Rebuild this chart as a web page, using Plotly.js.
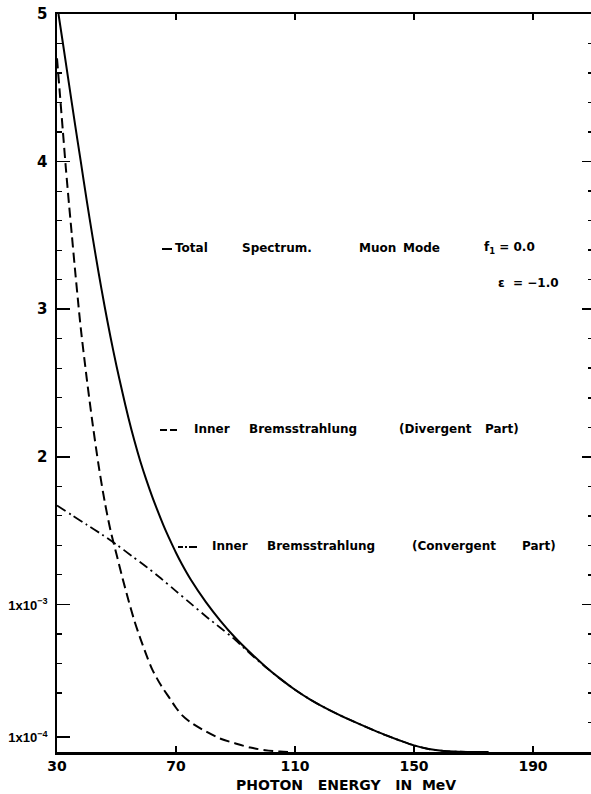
<!DOCTYPE html>
<html>
<head>
<meta charset="utf-8">
<script src="https://cdn.plot.ly/plotly-3.0.1.min.js"></script>
<style>html,body{margin:0;padding:0;background:#fff;}#chart{width:591px;height:794px;}</style>
</head>
<body>
<div id="chart"></div>
<script>
// ---- Data (values in units of 10^-3) ----
const totalEnergy = [30.5, 32, 34, 36, 38, 40, 42, 44, 46, 48, 50, 52, 54, 56, 58, 60, 62, 64, 66, 68, 70, 72, 75, 80, 85, 90, 95, 100, 105, 110, 115, 120, 125, 130, 135, 140, 145, 150, 155, 160, 165, 170, 175];
const totalSpectrum = [5.0, 4.8, 4.53, 4.26, 4.0, 3.735, 3.485, 3.245, 3.02, 2.81, 2.615, 2.435, 2.265, 2.11, 1.97, 1.845, 1.73, 1.625, 1.525, 1.435, 1.35, 1.272, 1.167, 1.017, 0.887, 0.772, 0.672, 0.58, 0.497, 0.422, 0.357, 0.3, 0.25, 0.204, 0.16, 0.118, 0.08, 0.045, 0.02, 0.007, 0.002, 0.0005, 0];

const divEnergy = [30, 31, 32, 33, 34, 35, 36, 37, 38, 40, 42, 44, 46, 48, 50, 52, 54, 56, 58, 60, 62, 65, 68, 70, 72, 75, 80, 85, 90, 95, 100, 105, 108];
const divergentPart = [4.7, 4.45, 4.2, 3.95, 3.72, 3.5, 3.28, 3.07, 2.87, 2.53, 2.22, 1.94, 1.7, 1.5, 1.34, 1.18, 1.03, 0.89, 0.77, 0.66, 0.56, 0.45, 0.36, 0.3, 0.25, 0.2, 0.14, 0.09, 0.058, 0.03, 0.012, 0.003, 0];

const convEnergy = [30, 35, 40, 45, 50, 55, 60, 65, 70, 75, 80, 85, 90, 95, 100, 105, 110, 115, 120, 125, 130, 135, 140, 145, 150, 155, 160, 165, 170, 175];
const convergentPart = [1.67, 1.605, 1.54, 1.475, 1.405, 1.33, 1.255, 1.175, 1.09, 1.005, 0.92, 0.84, 0.758, 0.665, 0.578, 0.496, 0.422, 0.357, 0.3, 0.25, 0.204, 0.16, 0.118, 0.08, 0.045, 0.02, 0.007, 0.002, 0.0005, 0];

const xTickVals = [30, 70, 110, 150, 190];
const xTickText = ['30', '70', '110', '150', '190'];
const yTickVals = [0.1, 1, 2, 3, 4, 5];
const yTickText = [
  '<span style="font-family:Liberation Sans, Arial, sans-serif;font-size:13px">1x10<sup>−4</sup></span>',
  '<span style="font-family:Liberation Sans, Arial, sans-serif;font-size:13px">1x10<sup>−3</sup></span>',
  '2', '3', '4', '5'];
const yMinorVals = [0.4, 0.6, 0.8, 1.2, 1.4, 1.6, 1.8, 2.2, 2.4, 2.6, 2.8, 3.2, 3.4, 3.6, 3.8, 4.2, 4.4, 4.6, 4.8];
const xTitle = 'PHOTON\u00a0\u00a0\u00a0ENERGY\u00a0\u00a0\u00a0IN\u00a0\u00a0MeV';

// ---- Layout helpers (pixel -> paper) ----
const L = 57, T = 14, W = 534, H = 738;
const px = x => (x - L) / W;
const py = y => (T + H - y) / H;

const FONT = {family: 'DejaVu Sans, Liberation Sans, sans-serif', color: '#000', weight: 'bold'};
const lab = (text, x, y, size) => ({
  text: text, x: px(x), y: py(y), xref: 'paper', yref: 'paper',
  xanchor: 'left', yanchor: 'middle', showarrow: false,
  font: Object.assign({}, FONT, {size: size || 12})
});

const traces = [
  {x: totalEnergy, y: totalSpectrum, mode: 'lines', name: 'Total Spectrum',
   line: {color: '#000', width: 2, shape: 'spline', smoothing: 0.8}},
  {x: divEnergy, y: divergentPart, mode: 'lines', name: 'Inner Bremsstrahlung (Divergent Part)',
   line: {color: '#000', width: 2, dash: '10px,5px', shape: 'spline', smoothing: 0.8}},
  {x: convEnergy, y: convergentPart, mode: 'lines', name: 'Inner Bremsstrahlung (Convergent Part)',
   line: {color: '#000', width: 1.8, dash: '10px,4px,2px,4px', shape: 'spline', smoothing: 0.8}},
  {x: [30], y: [0], yaxis: 'y2', mode: 'markers', marker: {opacity: 0}, hoverinfo: 'skip', showlegend: false}
];

const layout = {
  width: 591, height: 794,
  margin: {l: L, r: 0, t: T, b: 794 - T - H},
  paper_bgcolor: '#fff', plot_bgcolor: '#fff',
  showlegend: false,
  xaxis: {
    range: [30, 30 + W / 2.975],
    tickmode: 'array', tickvals: xTickVals, ticktext: xTickText,
    ticks: 'inside', ticklen: 6, tickwidth: 1.5, tickcolor: '#000',
    showline: true, linewidth: 2.5, linecolor: '#000', mirror: 'ticks',
    showgrid: false, zeroline: false, ticklabelstandoff: 0,
    tickfont: Object.assign({}, FONT, {size: 14})
  },
  yaxis: {
    range: [0, 5],
    tickmode: 'array', tickvals: yTickVals, ticktext: yTickText,
    ticks: 'inside', ticklen: 13, tickwidth: 1.5, tickcolor: '#000',
    minor: {tickmode: 'array', tickvals: yMinorVals, ticks: 'inside', ticklen: 5, tickwidth: 1.2, tickcolor: '#000', showgrid: false},
    showline: true, linewidth: 2.5, linecolor: '#000', mirror: false,
    showgrid: false, zeroline: false, ticklabelstandoff: 4,
    tickfont: Object.assign({}, FONT, {size: 15})
  },
  yaxis2: {
    overlaying: 'y', side: 'right', anchor: 'x', range: [0, 5],
    tickmode: 'array', tickvals: [1, 2, 3, 4], showticklabels: false,
    ticks: 'inside', ticklen: 9, tickwidth: 1.5, tickcolor: '#000',
    minor: {tick0: 0, dtick: 0.2, ticks: 'inside', ticklen: 3, tickwidth: 1.5, tickcolor: '#000', showgrid: false},
    showline: false, showgrid: false, zeroline: false
  },
  shapes: [
    {type: 'line', xref: 'paper', yref: 'paper', x0: px(162), x1: px(172), y0: py(249), y1: py(249), line: {color: '#000', width: 2}},
    {type: 'line', xref: 'paper', yref: 'paper', x0: px(160), x1: px(178), y0: py(430), y1: py(430), line: {color: '#000', width: 2, dash: '7px,3px'}},
    {type: 'line', xref: 'paper', yref: 'paper', x0: px(178), x1: px(197), y0: py(547), y1: py(547), line: {color: '#000', width: 2, dash: '5px,2px,2px,2px,8px'}}
  ],
  annotations: [
    lab('Total', 173, 248), lab('Spectrum.', 240, 248), lab('Muon', 357, 248), lab('Mode', 401, 248),
    lab('f<sub>1</sub> = 0.0', 482, 248), lab('ε\u00a0 = −1.0', 496, 283),
    lab('Inner', 192, 429), lab('Bremsstrahlung', 247, 429), lab('(Divergent', 397, 429), lab('Part)', 483, 429),
    lab('Inner', 210, 546), lab('Bremsstrahlung', 265, 546), lab('(Convergent', 410, 546), lab('Part)', 520, 546),
    {text: xTitle, x: px(346), y: py(785), xref: 'paper', yref: 'paper', xanchor: 'center', yanchor: 'middle',
     showarrow: false, font: Object.assign({}, FONT, {size: 14})}
  ]
};

Plotly.newPlot('chart', traces, layout, {displayModeBar: false, staticPlot: true});
</script>
</body>
</html>
